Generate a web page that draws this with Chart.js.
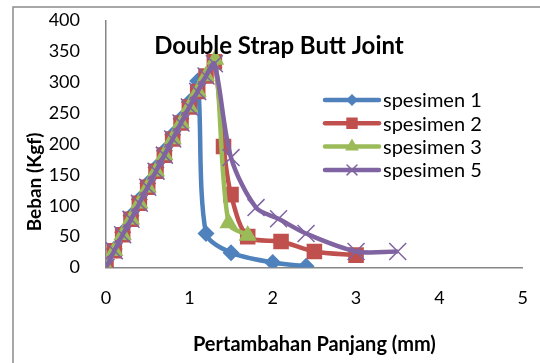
<!DOCTYPE html>
<html>
<head>
  <meta charset="utf-8" />
  <title>Double Strap Butt Joint</title>
  <script src="https://cdn.jsdelivr.net/npm/chart.js"></script>
  <style>
    html, body {
      margin: 0;
      padding: 0;
      background: #fff;
    }
    .wrap {
      position: relative;
      width: 540px;
      height: 363px;
    }
  </style>
</head>
<body>
  <div class="wrap">
    <canvas id="chart" width="540" height="363"></canvas>
  </div>

  <script>
    // Daten
    const chartTitle = 'Double Strap Butt Joint';
    const xTitle = 'Pertambahan Panjang (mm)';
    const yTitle = 'Beban (Kgf)';
    const seriesNames = ['spesimen 1', 'spesimen 2', 'spesimen 3', 'spesimen 5'];

    const s1X = [0, 0.1, 0.2, 0.3, 0.4, 0.5, 0.6, 0.7, 0.8, 0.9, 1.0, 1.1, 1.2, 1.5, 2.0, 2.4];
    const s1Y = [0, 30, 57, 84, 110, 136, 162, 189, 215, 241, 268, 302, 55, 24, 8, 2];

    const s2X = [0, 0.1, 0.2, 0.3, 0.4, 0.5, 0.6, 0.7, 0.8, 0.9, 1.0, 1.1, 1.2, 1.3, 1.41, 1.5, 1.7, 2.1, 2.5, 3.0];
    const s2Y = [0, 27, 53, 78, 104, 130, 156, 182, 208, 234, 260, 285, 310, 333, 196, 118, 50, 42, 26, 20];

    const s3X = [0, 0.1, 0.2, 0.3, 0.4, 0.5, 0.6, 0.7, 0.8, 0.9, 1.0, 1.1, 1.2, 1.31, 1.47, 1.7];
    const s3Y = [0, 27, 53, 78, 104, 130, 156, 182, 208, 234, 260, 285, 310, 337, 72, 52];

    const s5X = [0, 0.1, 0.2, 0.3, 0.4, 0.5, 0.6, 0.7, 0.8, 0.9, 1.0, 1.1, 1.2, 1.3, 1.5, 1.8, 2.07, 2.4, 3.0, 3.5];
    const s5Y = [0, 27, 53, 78, 104, 130, 156, 182, 208, 234, 260, 285, 310, 330, 178, 97, 79, 55, 26, 26];

    const xTicks = [0, 1, 2, 3, 4, 5];
    const yTicks = [0, 50, 100, 150, 200, 250, 300, 350, 400];

    // Farben (Excel 2007)
    const colors = ['#4F81BD', '#C0504D', '#9BBB59', '#8064A2'];
    const markers = ['rectRot', 'rect', 'triangle', 'crossRot'];
    const markerSizes = [8.5, 11, 10.5, 12];
    const legendSizes = [5, 7, 6.5, 7];

    const toPoints = (xs, ys) => xs.map((x, i) => ({ x: x, y: ys[i] }));
    const allPoints = [toPoints(s1X, s1Y), toPoints(s2X, s2Y), toPoints(s3X, s3Y), toPoints(s5X, s5Y)];

    const datasets = allPoints.map((pts, i) => ({
      label: seriesNames[i],
      data: pts,
      borderColor: colors[i],
      backgroundColor: colors[i],
      borderWidth: 4.5,
      tension: 0.3,
      pointStyle: markers[i],
      pointRadius: markerSizes[i],
      pointBorderWidth: markers[i] === 'crossRot' ? 1.5 : 0,
      pointBorderColor: colors[i],
      pointBackgroundColor: colors[i],
      order: 4 - i   // lila oben
    }));

    // Rahmen, Titel, Y-Titel und Legende innen zeichnen
    const overlay = {
      id: 'overlay',
      beforeDraw(chart) {
        const ctx = chart.ctx;
        ctx.save();
        ctx.strokeStyle = '#8a8a8a';
        ctx.lineWidth = 1.5;
        ctx.beginPath();
        ctx.moveTo(13, 363);
        ctx.lineTo(13, 7);
        ctx.lineTo(540, 7);
        ctx.stroke();
        ctx.restore();
      },
      afterDraw(chart) {
        const ctx = chart.ctx;
        ctx.save();
        ctx.fillStyle = '#000';
        ctx.textAlign = 'center';
        ctx.textBaseline = 'middle';
        ctx.font = 'bold 24px Lato';
        ctx.fillText(chartTitle, 279, 46);

        ctx.save();
        ctx.translate(35, 182);
        ctx.rotate(-Math.PI / 2);
        ctx.font = 'bold 19px Lato';
        ctx.fillText(yTitle, 0, 0);
        ctx.restore();

        // Legende
        ctx.font = '20px Lato';
        ctx.textAlign = 'left';
        seriesNames.forEach((name, i) => {
          const y = 100 + i * 23.3;
          ctx.strokeStyle = colors[i];
          ctx.lineWidth = 4.5;
          ctx.lineCap = 'round';
          ctx.beginPath();
          ctx.moveTo(325, y);
          ctx.lineTo(379, y);
          ctx.stroke();
          ctx.fillStyle = colors[i];
          ctx.lineWidth = 1.5;
          Chart.helpers.drawPoint(ctx, { pointStyle: markers[i], radius: legendSizes[i], borderWidth: 1.5, rotation: 0 }, 352, y);
          ctx.fillStyle = '#000';
          ctx.fillText(name, 383, y + 1);
        });
        ctx.restore();
      }
    };

    new Chart(document.getElementById('chart'), {
      type: 'line',
      data: { datasets: datasets },
      plugins: [overlay],
      options: {
        responsive: false,
        animation: false,
        layout: { padding: { left: 0, top: 20.5, right: 4, bottom: 0 } },
        plugins: {
          legend: { display: false },
          tooltip: { enabled: false }
        },
        scales: {
          x: {
            type: 'linear',
            min: 0,
            max: 5,
            afterFit: (s) => { s.height = 95.5; },
            afterBuildTicks: (s) => { s.ticks = xTicks.map(v => ({ value: v })); },
            grid: { display: false },
            border: { color: '#868686', width: 1.5 },
            ticks: { padding: 12, color: '#000', font: { family: 'Lato', size: 18 } },
            title: {
              display: true,
              text: xTitle,
              color: '#000',
              padding: { top: 0, bottom: 6 },
              font: { family: 'Lato', size: 20, weight: 'bold' }
            }
          },
          y: {
            min: 0,
            max: 400,
            afterFit: (s) => { s.width = 106; s.paddingTop = 0; s.paddingBottom = 0; },
            afterBuildTicks: (s) => { s.ticks = yTicks.map(v => ({ value: v })); },
            grid: { display: false },
            border: { color: '#868686', width: 1.5 },
            ticks: { padding: 18, color: '#000', font: { family: 'Lato', size: 18 } }
          }
        }
      }
    });
  </script>
</body>
</html>
